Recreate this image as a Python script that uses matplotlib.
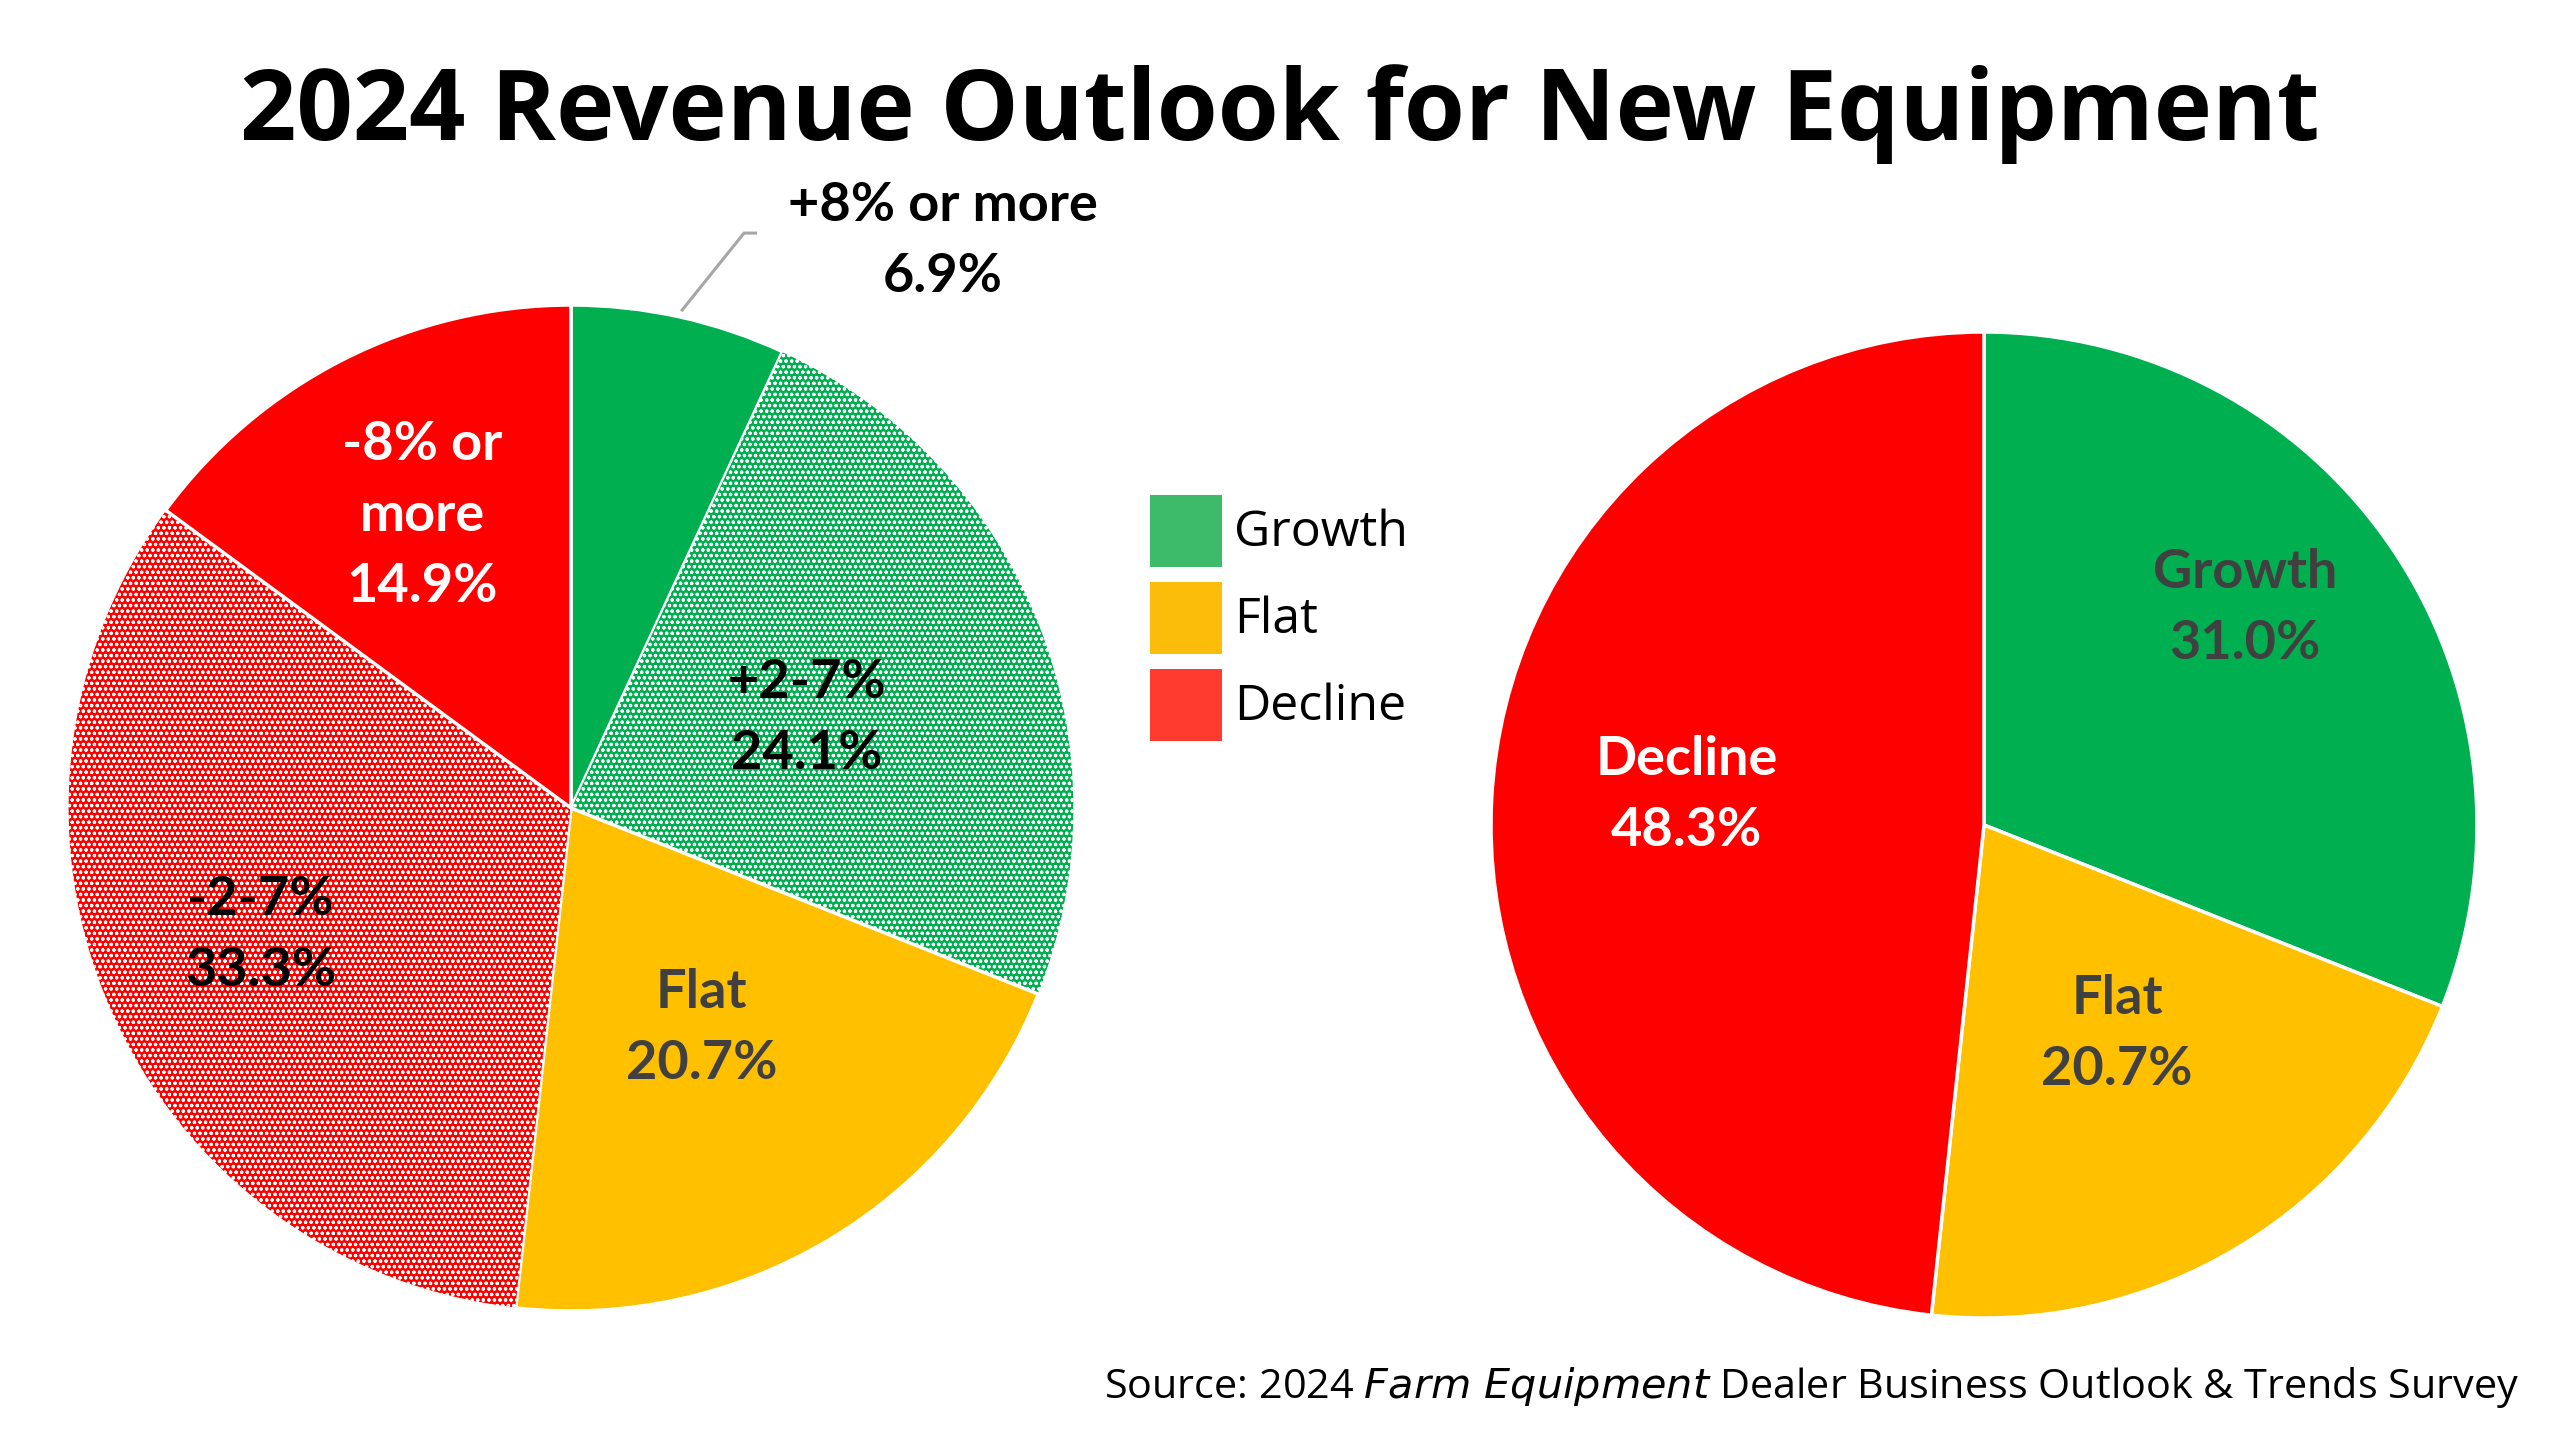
import matplotlib
matplotlib.use("Agg")
import matplotlib.pyplot as plt
from matplotlib.patches import Rectangle

# --- data ---
detail_labels = ["+8% or more", "+2-7%", "Flat", "-2-7%", "-8% or\nmore"]
detail_values = [6.9, 24.1, 20.7, 33.3, 14.9]
summary_labels = ["Growth", "Flat", "Decline"]
summary_values = [31.0, 20.7, 48.3]
legend_labels = ["Growth", "Flat", "Decline"]

# --- styles ---
GREEN, YELLOW, RED = "#00b050", "#ffc000", "#ff0000"
detail_colors = [GREEN, GREEN, YELLOW, RED, RED]
detail_hatch = [None, "ooo", None, "ooo", None]
detail_text = ["black", "black", "#404040", "black", "white"]
summary_colors = [GREEN, YELLOW, RED]
summary_text = ["#404040", "#404040", "white"]
legend_colors = ["#3dbb6b", "#fcbd0a", "#ff3b2f"]

plt.rcParams["hatch.linewidth"] = 0.85

W, H = 2560, 1440
fig = plt.figure(figsize=(25.6, 14.4), dpi=100)
fig.patch.set_facecolor("white")

LABEL_FONT = ["Lato", "DejaVu Sans"]


def pie_axes(cx, cy, r):
    # cx, cy, r in pixels (y from top)
    ax = fig.add_axes([(cx - r) / W, (H - cy - r) / H, 2 * r / W, 2 * r / H])
    ax.axis("off")
    return ax


# --- left pie ---
ax1 = pie_axes(571, 808, 503)
wedges, _ = ax1.pie(detail_values, colors=detail_colors, startangle=90,
                    counterclock=False, radius=1,
                    wedgeprops=dict(edgecolor="white", linewidth=2.5))
for w, h in zip(wedges, detail_hatch):
    if h:
        w.set_hatch(h)
        w.set_linewidth(0.8)
ax1.set_xlim(-1, 1)
ax1.set_ylim(-1, 1)

left_pos = [(0.74, 1.127), (0.468, 0.179), (0.26, -0.438), (-0.617, -0.253), (-0.295, 0.581)]
for lab, val, pos, col in zip(detail_labels, detail_values, left_pos, detail_text):
    ax1.text(pos[0], pos[1], f"{lab}\n{val:.1f}%", ha="center", va="center",
             fontsize=39, fontweight="bold", color=col, family=LABEL_FONT,
             linespacing=1.55, clip_on=False)
# leader line for the small slice
ax1.plot([0.221, 0.344, 0.367], [0.99, 1.143, 1.143], color="#a6a6a6", lw=2.2,
         clip_on=False)

# --- right pie ---
ax2 = pie_axes(1984, 825, 493)
ax2.pie(summary_values, colors=summary_colors, startangle=90, counterclock=False,
        radius=1, wedgeprops=dict(edgecolor="white", linewidth=2.5))
ax2.set_xlim(-1, 1)
ax2.set_ylim(-1, 1)
right_pos = [(0.53, 0.44), (0.27, -0.424), (-0.603, 0.06)]
for lab, val, pos, col in zip(summary_labels, summary_values, right_pos, summary_text):
    ax2.text(pos[0], pos[1], f"{lab}\n{val:.1f}%", ha="center", va="center",
             fontsize=39, fontweight="bold", color=col, family=LABEL_FONT,
             linespacing=1.55, clip_on=False)

# --- legend (drawn by hand to match the square swatches) ---
sw_x, sw_size = 1150, 72
sw_tops = [495, 582, 669]
for top, c, lab in zip(sw_tops, legend_colors, legend_labels):
    fig.patches.append(Rectangle((sw_x / W, 1 - (top + sw_size) / H),
                                 sw_size / W, sw_size / H, facecolor=c,
                                 edgecolor="none", transform=fig.transFigure))
    fig.text((sw_x + sw_size + 12) / W, 1 - (top + sw_size / 2 + 2) / H, lab,
             ha="left", va="center", fontsize=36, family="Open Sans",
             color="black")

# --- title and source ---
fig.text(0.5, 1 - 114 / H, "2024 Revenue Outlook for New Equipment",
         ha="center", va="center", fontsize=71, fontweight="bold",
         family="Open Sans", color="black")
fig.text(2519 / W, 1 - 1388 / H,
         r"Source: 2024 $\it{Farm\ Equipment}$ Dealer Business Outlook & Trends Survey",
         ha="right", va="center", fontsize=29.8, family="Open Sans", color="black")

fig.savefig("out.png", dpi=100)
